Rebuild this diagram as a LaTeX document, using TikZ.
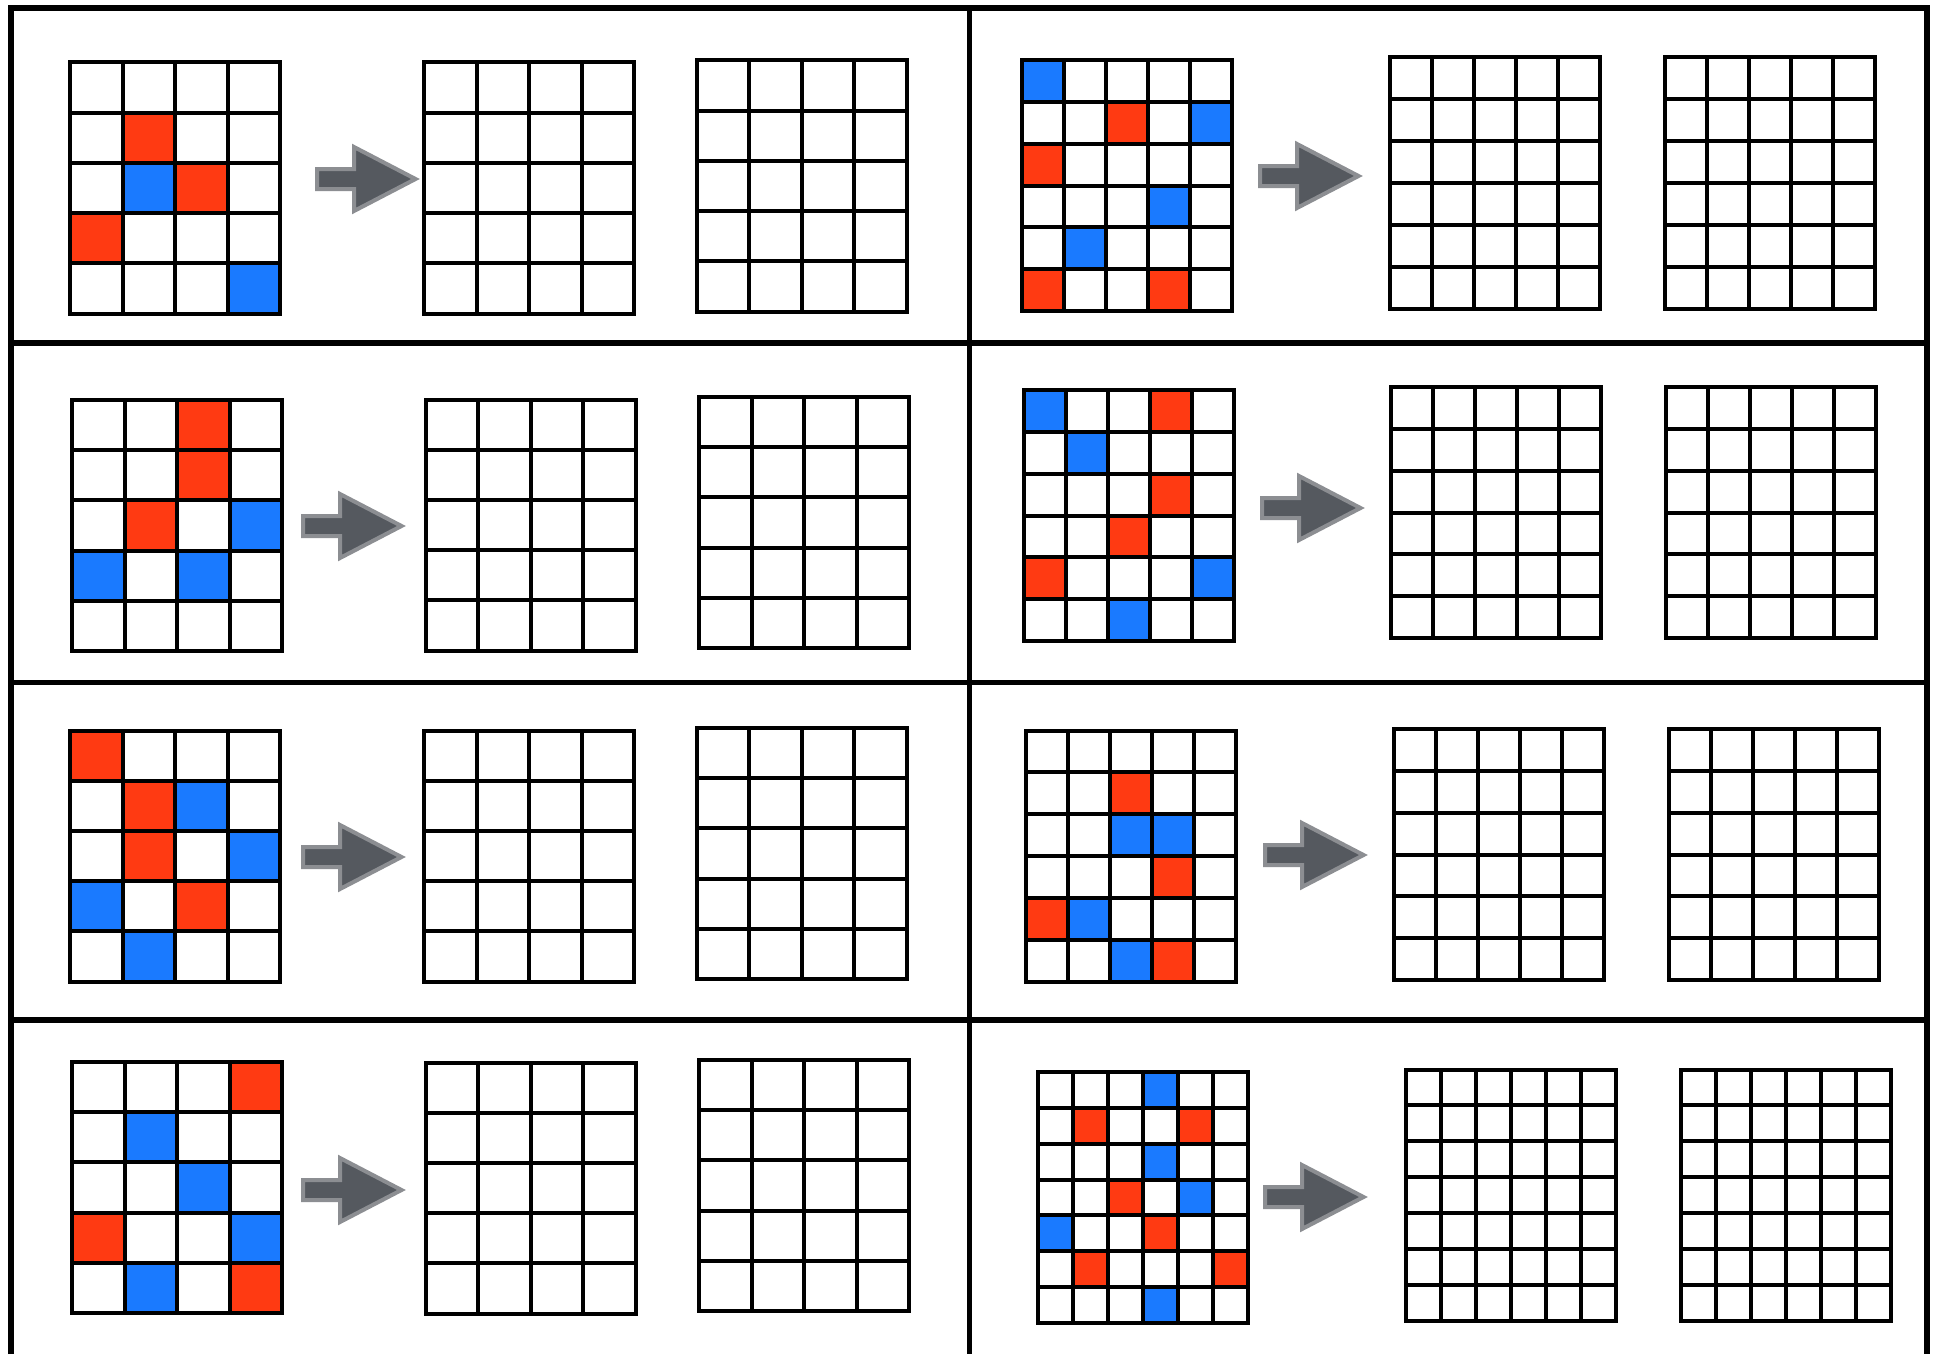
\documentclass[tikz,border=0pt]{standalone}
\usetikzlibrary{calc}

\definecolor{cellR}{RGB}{255,58,18}
\definecolor{cellB}{RGB}{26,122,255}
\definecolor{arrowfill}{RGB}{85,89,95}
\definecolor{arrowedge}{RGB}{140,142,146}

% empty grid: name, centre x, centre y, columns, rows
\newcommand{\emptygrid}[5]{%
  \node[gridbox] (#1) at (#2,#3) {};
  \pgfmathtruncatemacro\lastcol{#4-1}
  \pgfmathtruncatemacro\lastrow{#5-1}
  \foreach \i in {1,...,\lastcol}
    \draw[gridline] ({#2-105+\i*210/#4},{#3-125.5}) -- ++(0,251);
  \foreach \j in {1,...,\lastrow}
    \draw[gridline] ({#2-105},{#3-125.5+\j*251/#5}) -- ++(210,0);
}
% grid with coloured cells given as row/column/colour
\newcommand{\cellgrid}[6]{%
  \foreach \row/\col/\tone in {#6}
    \fill[\tone] ({#2-105+(\col-1)*210/#4},{#3-125.5+(\row-1)*251/#5}) rectangle ++({210/#4},{251/#5});
  \emptygrid{#1}{#2}{#3}{#4}{#5}
}
% block arrow: name, tail x, centre y
\newcommand{\flowarrow}[3]{%
  \coordinate (#1) at (#2,#3);
  \draw[blockarrow] ([shift={(2,-10)}]#1) -- ([shift={(39,-10)}]#1) -- ([shift={(39,-32)}]#1)
    -- ([shift={(100.5,0)}]#1) -- ([shift={(39,32)}]#1) -- ([shift={(39,10)}]#1)
    -- ([shift={(2,10)}]#1) -- cycle;
}

\begin{document}
\begin{tikzpicture}[x=1pt, y=-1pt,
    frameline/.style={line width=5.5pt, black},
    gridline/.style={line width=4pt, black},
    gridbox/.style={draw, line width=4pt, minimum width=210pt, minimum height=251pt, inner sep=0pt, outer sep=0pt},
    blockarrow/.style={fill=arrowfill, draw=arrowedge, line width=4pt}]
    \fill[white] (0,0) rectangle (1934,1354);
    \useasboundingbox (0,0) rectangle (1934,1354);

    % frame
    \draw[frameline] (11,1354) -- (11,8) -- (1927,8) -- (1927,1354);
    \draw[frameline] (969.5,8) -- (969.5,1354);
    \draw[frameline] (11,343) -- (1927,343);
    \draw[frameline] (11,682.5) -- (1927,682.5);
    \draw[frameline] (11,1020) -- (1927,1020);

    % row 1
    \cellgrid{aL1}{175}{188}{4}{5}{2/2/cellR, 3/2/cellB, 3/3/cellR, 4/1/cellR, 5/4/cellB}
    \flowarrow{arL1}{315}{179}
    \emptygrid{bL1}{529}{188}{4}{5}
    \emptygrid{cL1}{801.5}{186}{4}{5}

    \cellgrid{aR1}{1126.5}{185.5}{5}{6}{1/1/cellB, 2/3/cellR, 2/5/cellB, 3/1/cellR, 4/4/cellB, 5/2/cellB, 6/1/cellR, 6/4/cellR}
    \flowarrow{arR1}{1258}{176}
    \emptygrid{bR1}{1495}{183}{5}{6}
    \emptygrid{cR1}{1770}{183}{5}{6}

    % row 2
    \cellgrid{aL2}{177}{525.5}{4}{5}{1/3/cellR, 2/3/cellR, 3/2/cellR, 3/4/cellB, 4/1/cellB, 4/3/cellB}
    \flowarrow{arL2}{301}{526}
    \emptygrid{bL2}{530.5}{525}{4}{5}
    \emptygrid{cL2}{804}{522.5}{4}{5}

    \cellgrid{aR2}{1129}{515.5}{5}{6}{1/1/cellB, 1/4/cellR, 2/2/cellB, 3/4/cellR, 4/3/cellR, 5/1/cellR, 5/5/cellB, 6/3/cellB}
    \flowarrow{arR2}{1260}{508}
    \emptygrid{bR2}{1496}{512.5}{5}{6}
    \emptygrid{cR2}{1771}{512.5}{5}{6}

    % row 3
    \cellgrid{aL3}{175}{856}{4}{5}{1/1/cellR, 2/2/cellR, 2/3/cellB, 3/2/cellR, 3/4/cellB, 4/1/cellB, 4/3/cellR, 5/2/cellB}
    \flowarrow{arL3}{301}{857}
    \emptygrid{bL3}{529}{856}{4}{5}
    \emptygrid{cL3}{801.5}{853.5}{4}{5}

    \cellgrid{aR3}{1130.5}{856}{5}{6}{2/3/cellR, 3/3/cellB, 3/4/cellB, 4/4/cellR, 5/1/cellR, 5/2/cellB, 6/3/cellB, 6/4/cellR}
    \flowarrow{arR3}{1263}{855}
    \emptygrid{bR3}{1498.5}{854.5}{5}{6}
    \emptygrid{cR3}{1773.5}{854.5}{5}{6}

    % row 4
    \cellgrid{aL4}{177}{1187.5}{4}{5}{1/4/cellR, 2/2/cellB, 3/3/cellB, 4/1/cellR, 4/4/cellB, 5/2/cellB, 5/4/cellR}
    \flowarrow{arL4}{301}{1190}
    \emptygrid{bL4}{530.5}{1188}{4}{5}
    \emptygrid{cL4}{804}{1185.5}{4}{5}

    \cellgrid{aR4}{1143}{1197.5}{6}{7}{1/4/cellB, 2/2/cellR, 2/5/cellR, 3/4/cellB, 4/3/cellR, 4/5/cellB, 5/1/cellB, 5/4/cellR, 6/2/cellR, 6/6/cellR, 7/4/cellB}
    \flowarrow{arR4}{1263}{1197}
    \emptygrid{bR4}{1511}{1195}{6}{7}
    \emptygrid{cR4}{1786}{1195}{6}{7}
\end{tikzpicture}
\end{document}
